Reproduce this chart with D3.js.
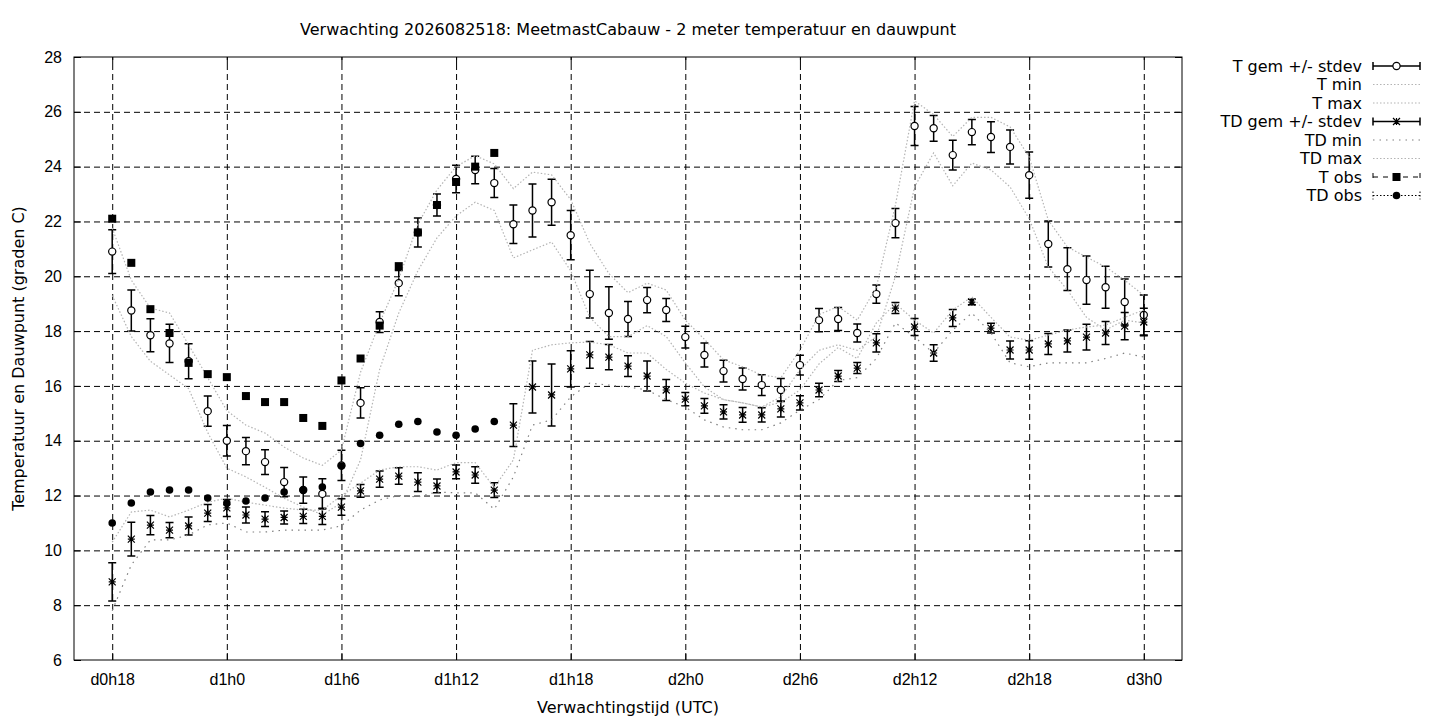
<!DOCTYPE html>
<html>
<head>
<meta charset="utf-8">
<script src="https://cdn.jsdelivr.net/npm/d3@7"></script>
<style>
  body { margin: 0; background: #fff; }
  svg { font-family: "DejaVu Sans", sans-serif; }
  .grid line { stroke: #000; stroke-width: 1; stroke-dasharray: 6,4; }
  .grid path { display: none; }
  .axis path { display: none; }
  .axis line { stroke: #000; }
  .axis text { font-size: 16px; fill: #000; }
</style>
</head>
<body>
<div id="chart"></div>
<script>
/**
 * Verwachting MeetmastCabauw - T en TD ensemble plot
 */

// forecast hours (hour 0 = d0h0)
const hours = [18, 19, 20, 21, 22, 23, 24, 25, 26, 27, 28, 29, 30, 31, 32, 33, 34, 35, 36,
  37, 38, 39, 40, 41, 42, 43, 44, 45, 46, 47, 48, 49, 50, 51, 52, 53, 54, 55, 56, 57, 58,
  59, 60, 61, 62, 63, 64, 65, 66, 67, 68, 69, 70, 71, 72];

const xTickValues = [18, 24, 30, 36, 42, 48, 54, 60, 66, 72];
const xTickLabels = ['d0h18', 'd1h0', 'd1h6', 'd1h12', 'd1h18', 'd2h0', 'd2h6', 'd2h12', 'd2h18', 'd3h0'];
const yTickValues = [6, 8, 10, 12, 14, 16, 18, 20, 22, 24, 26, 28];

// temperature
const tMean = [20.9, 18.75, 17.85, 17.55, 16.9, 15.08, 14.0, 13.62, 13.22, 12.49, 12.2, 12.06,
  13.1, 15.38, 18.33, 19.75, 21.6, 22.6, 23.55, 23.88, 23.4, 21.9, 22.4, 22.7, 21.5, 19.35,
  18.66, 18.44, 19.13, 18.77, 17.78, 17.13, 16.54, 16.25, 16.03, 15.85, 16.76, 18.4, 18.44,
  17.93, 19.35, 21.94, 25.48, 25.4, 24.42, 25.26, 25.08, 24.72, 23.69, 21.18, 20.26, 19.86,
  19.6, 19.06, 18.59];
const tSd = [0.8, 0.75, 0.6, 0.7, 0.64, 0.55, 0.56, 0.5, 0.45, 0.53, 0.48, 0.55, 0.55, 0.55,
  0.38, 0.46, 0.53, 0.4, 0.5, 0.5, 0.53, 0.7, 0.97, 0.84, 0.9, 0.87, 0.96, 0.64, 0.46, 0.42,
  0.4, 0.44, 0.4, 0.4, 0.38, 0.42, 0.36, 0.42, 0.42, 0.33, 0.33, 0.53, 0.71, 0.47, 0.54, 0.46,
  0.56, 0.62, 0.84, 0.84, 0.78, 0.88, 0.77, 0.84, 0.73];
const tMin = [19.3, 17.8, 16.9, 16.4, 15.9, 14.3, 13.0, 12.68, 12.3, 11.9, 11.58, 11.3, 11.73,
  13.3, 16.6, 18.66, 20.2, 21.4, 22.2, 22.7, 22.4, 20.67, 20.96, 21.25, 20.2, 18.5, 17.8,
  17.8, 18.2, 17.8, 16.84, 15.96, 15.5, 15.38, 15.23, 15.6, 16.58, 17.3, 17.5, 17.3, 17.8,
  20.0, 23.26, 24.5, 23.3, 24.13, 23.88, 23.26, 22.1, 20.34, 19.5, 18.5, 18.04, 18.4, 18.3];
const tMax = [21.76, 19.86, 18.84, 18.66, 17.5, 16.3, 15.1, 14.57, 14.28, 13.77, 13.37, 13.1,
  13.66, 16.5, 18.3, 19.9, 21.9, 23.15, 24.0, 24.4, 24.1, 23.2, 23.8, 23.7, 22.8, 21.2, 20.1,
  19.4, 19.75, 19.5, 18.4, 17.7, 16.95, 16.7, 16.4, 16.3, 17.3, 18.6, 18.9, 18.4, 19.6, 22.6,
  26.4, 25.9, 25.1, 25.8, 25.8, 25.45, 24.35, 22.05, 21.07, 20.7, 20.34, 19.86, 19.3];

// dew point
const tdMean = [8.85, 10.41, 10.92, 10.74, 10.89, 11.36, 11.55, 11.29, 11.14, 11.2, 11.24,
  11.24, 11.58, 12.17, 12.6, 12.71, 12.49, 12.35, 12.86, 12.75, 12.2, 14.57, 15.96, 15.67,
  16.62, 17.13, 17.05, 16.72, 16.36, 15.85, 15.52, 15.27, 15.05, 14.94, 14.94, 15.16, 15.38,
  15.85, 16.36, 16.65, 17.57, 18.84, 18.15, 17.2, 18.48, 19.06, 18.11, 17.31, 17.31, 17.53,
  17.64, 17.78, 17.93, 18.18, 18.33];
const tdSd = [0.7, 0.62, 0.35, 0.28, 0.33, 0.31, 0.31, 0.29, 0.27, 0.24, 0.26, 0.3, 0.3, 0.23,
  0.3, 0.3, 0.34, 0.25, 0.25, 0.3, 0.27, 0.78, 0.95, 1.13, 0.66, 0.49, 0.46, 0.38, 0.55, 0.38,
  0.24, 0.27, 0.26, 0.27, 0.26, 0.29, 0.26, 0.25, 0.2, 0.2, 0.33, 0.2, 0.31, 0.3, 0.31, 0.1,
  0.18, 0.33, 0.34, 0.38, 0.4, 0.47, 0.42, 0.5, 0.5];
const tdMin = [7.8, 9.47, 10.38, 10.38, 10.56, 10.93, 11.0, 10.67, 10.67, 10.74, 10.74, 10.74,
  10.9, 11.47, 11.84, 12.0, 11.95, 12.13, 12.1, 12.1, 11.5, 12.68, 14.57, 14.76, 15.6, 16.1,
  16.03, 15.96, 15.85, 15.5, 15.23, 14.76, 14.5, 14.4, 14.4, 14.65, 15.12, 15.5, 16.2, 16.3,
  17.0, 18.3, 17.78, 17.2, 18.04, 18.66, 17.93, 16.84, 16.7, 16.84, 16.84, 16.84, 17.0,
  17.2, 17.05];
const tdMax = [10.3, 11.4, 11.47, 11.22, 11.47, 11.76, 11.9, 11.76, 11.65, 11.54, 11.47, 11.47,
  12.0, 12.45, 12.93, 13.05, 13.05, 12.93, 13.2, 13.2, 12.3, 13.3, 17.3, 17.5, 17.57, 17.6,
  17.5, 17.2, 17.2, 16.6, 16.1, 15.74, 15.5, 15.38, 15.23, 15.4, 15.85, 16.8, 17.4, 17.0,
  18.3, 19.0, 18.4, 17.93, 18.77, 19.25, 18.5, 17.78, 17.67, 17.85, 18.04, 18.15, 18.22,
  18.5, 18.77];

// observations (hour 18 .. 38)
const obsHours = [18, 19, 20, 21, 22, 23, 24, 25, 26, 27, 28, 29, 30, 31, 32, 33, 34, 35, 36, 37, 38];
const tObs = [22.1, 20.49, 18.8, 17.93, 16.84, 16.43, 16.32, 15.63, 15.41, 15.41, 14.83, 14.54,
  16.2, 17.0, 18.2, 20.37, 21.6, 22.6, 23.44, 24.0, 24.5];
const tdObs = [11.0, 11.73, 12.13, 12.2, 12.2, 11.91, 11.73, 11.8, 11.91, 12.13, 12.2, 12.31,
  13.08, 13.9, 14.2, 14.6, 14.7, 14.32, 14.2, 14.43, 14.7];

const W = 1440, H = 720;
const plot = { left: 74, top: 57, right: 1182, bottom: 660 };

const svg = d3.select('#chart').append('svg')
  .attr('width', W)
  .attr('height', H);

const x = d3.scaleLinear().domain([16, 74]).range([plot.left, plot.right]);
const y = d3.scaleLinear().domain([6, 28]).range([plot.bottom, plot.top]);

const STYLE = {
  tLine: { stroke: '#b4b4b4', dash: '1.5,2' },
  tdMin: { stroke: '#808080', dash: '1.5,5' },
  tdMax: { stroke: '#b4b4b4', dash: '1.5,2' },
};

// Grid
svg.append('g')
  .attr('class', 'grid')
  .attr('transform', `translate(0,${plot.bottom})`)
  .call(d3.axisBottom(x).tickValues(xTickValues).tickSize(-(plot.bottom - plot.top)).tickFormat(''));

svg.append('g')
  .attr('class', 'grid')
  .attr('transform', `translate(${plot.left},0)`)
  .call(d3.axisLeft(y).tickValues(yTickValues.slice(1, -1)).tickSize(-(plot.right - plot.left)).tickFormat(''));

// Axes (ticks pointing inward, mirrored)
svg.append('g')
  .attr('class', 'axis')
  .attr('transform', `translate(0,${plot.bottom})`)
  .call(d3.axisBottom(x).tickValues(xTickValues).tickSizeInner(-7).tickPadding(14)
    .tickFormat((d, i) => xTickLabels[i]));

svg.append('g')
  .attr('class', 'axis')
  .attr('transform', `translate(0,${plot.top})`)
  .call(d3.axisTop(x).tickValues(xTickValues).tickSizeInner(-7).tickFormat(''));

svg.append('g')
  .attr('class', 'axis')
  .attr('transform', `translate(${plot.left},0)`)
  .call(d3.axisLeft(y).tickValues(yTickValues).tickSizeInner(-7).tickPadding(12));

svg.append('g')
  .attr('class', 'axis')
  .attr('transform', `translate(${plot.right},0)`)
  .call(d3.axisRight(y).tickValues(yTickValues).tickSizeInner(-7).tickFormat(''));

svg.append('rect')
  .attr('x', plot.left)
  .attr('y', plot.top)
  .attr('width', plot.right - plot.left)
  .attr('height', plot.bottom - plot.top)
  .attr('fill', 'none')
  .attr('stroke', '#000')
  .attr('stroke-width', 1);

// Titles
svg.append('text')
  .attr('x', 628)
  .attr('y', 35)
  .attr('text-anchor', 'middle')
  .attr('font-size', 16)
  .text('Verwachting 2026082518: MeetmastCabauw - 2 meter temperatuur en dauwpunt');

svg.append('text')
  .attr('x', (plot.left + plot.right) / 2)
  .attr('y', 713)
  .attr('text-anchor', 'middle')
  .attr('font-size', 16)
  .text('Verwachtingstijd (UTC)');

svg.append('text')
  .attr('transform', `translate(24,${(plot.top + plot.bottom) / 2}) rotate(-90)`)
  .attr('text-anchor', 'middle')
  .attr('font-size', 16)
  .text('Temperatuur en Dauwpunt (graden C)');

const plotArea = svg.append('g');

/**
 * Marker drawing helpers
 */
function drawMarker(g, type, cx, cy) {
  if (type === 'circle') {
    g.append('circle').attr('cx', cx).attr('cy', cy).attr('r', 3.6)
      .attr('fill', '#fff').attr('stroke', '#000').attr('stroke-width', 1.2);
  } else if (type === 'star') {
    const s = 3.5;
    g.append('path')
      .attr('d', `M${cx - s},${cy}H${cx + s}M${cx},${cy - s}V${cy + s}` +
        `M${cx - s},${cy - s}L${cx + s},${cy + s}M${cx - s},${cy + s}L${cx + s},${cy - s}`)
      .attr('stroke', '#000').attr('stroke-width', 1.2).attr('fill', 'none');
  } else if (type === 'square') {
    g.append('rect').attr('x', cx - 4).attr('y', cy - 4).attr('width', 8).attr('height', 8)
      .attr('fill', '#000');
  } else if (type === 'dot') {
    g.append('circle').attr('cx', cx).attr('cy', cy).attr('r', 3.8).attr('fill', '#000');
  }
}

function drawErrorBars(mean, sd, marker) {
  const g = plotArea.append('g');
  const cap = 4;
  hours.forEach((h, i) => {
    const cx = x(h);
    const y0 = y(mean[i] - sd[i]);
    const y1 = y(mean[i] + sd[i]);
    g.append('path')
      .attr('d', `M${cx},${y0}V${y1}M${cx - cap},${y0}H${cx + cap}M${cx - cap},${y1}H${cx + cap}`)
      .attr('stroke', '#000')
      .attr('stroke-width', 1.5)
      .attr('fill', 'none');
  });
  hours.forEach((h, i) => drawMarker(g, marker, x(h), y(mean[i])));
}

function drawDotted(values, style) {
  const line = d3.line().x((d, i) => x(hours[i])).y(d => y(d));
  plotArea.append('path')
    .datum(values)
    .attr('d', line)
    .attr('fill', 'none')
    .attr('stroke', style.stroke)
    .attr('stroke-width', 1.2)
    .attr('stroke-dasharray', style.dash);
}

drawErrorBars(tMean, tSd, 'circle');
drawDotted(tMin, STYLE.tLine);
drawDotted(tMax, STYLE.tLine);
drawErrorBars(tdMean, tdSd, 'star');
drawDotted(tdMin, STYLE.tdMin);
drawDotted(tdMax, STYLE.tdMax);

const obsG = plotArea.append('g');
obsHours.forEach((h, i) => drawMarker(obsG, 'square', x(h), y(tObs[i])));
obsHours.forEach((h, i) => drawMarker(obsG, 'dot', x(h), y(tdObs[i])));

// Legend
const legendItems = [
  { label: 'T gem +/- stdev', kind: 'bar', marker: 'circle' },
  { label: 'T min', kind: 'line', style: STYLE.tLine },
  { label: 'T max', kind: 'line', style: STYLE.tLine },
  { label: 'TD gem +/- stdev', kind: 'bar', marker: 'star' },
  { label: 'TD min', kind: 'line', style: STYLE.tdMin },
  { label: 'TD max', kind: 'line', style: STYLE.tdMax },
  { label: 'T obs', kind: 'obs', marker: 'square', dash: '5,5' },
  { label: 'TD obs', kind: 'obs', marker: 'dot', dash: '1.5,2' },
];

const legend = svg.append('g').attr('class', 'legend');
const lx0 = 1373, lx1 = 1420, ly0 = 66, lstep = 18.5;

legendItems.forEach((item, i) => {
  const ly = ly0 + i * lstep;
  legend.append('text')
    .attr('x', 1362)
    .attr('y', ly + 5.5)
    .attr('text-anchor', 'end')
    .attr('font-size', 16)
    .text(item.label);

  if (item.kind === 'line') {
    legend.append('line')
      .attr('x1', lx0).attr('x2', lx1).attr('y1', ly).attr('y2', ly)
      .attr('stroke', item.style.stroke)
      .attr('stroke-width', 1.2)
      .attr('stroke-dasharray', item.style.dash);
    return;
  }
  legend.append('path')
    .attr('d', `M${lx0},${ly}H${lx1}M${lx0},${ly - 4}V${ly + 4}M${lx1},${ly - 4}V${ly + 4}`)
    .attr('stroke', '#000')
    .attr('stroke-width', item.kind === 'bar' ? 1.5 : 1)
    .attr('stroke-dasharray', item.kind === 'obs' ? item.dash : null)
    .attr('fill', 'none');
  drawMarker(legend, item.marker, (lx0 + lx1) / 2, ly);
});
</script>
</body>
</html>
